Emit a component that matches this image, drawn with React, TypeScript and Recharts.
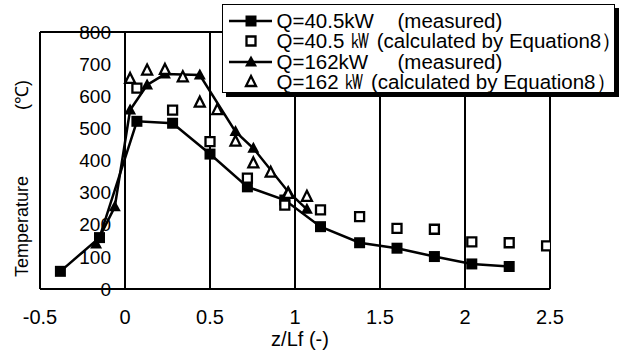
import {
  CartesianGrid,
  ComposedChart,
  Label,
  ReferenceDot,
  Scatter,
  XAxis,
  YAxis,
} from "recharts";

const FONT = "Arial, 'Liberation Sans', sans-serif";

const zTicks = [-0.5, 0, 0.5, 1, 1.5, 2, 2.5];
const tempTicks = [0, 100, 200, 300, 400, 500, 600, 700, 800];

// Q=40.5kW, thermocouple readings
const measured40 = [
  { x: -0.38, t: 55 },
  { x: -0.15, t: 160 },
  { x: 0.07, t: 522 },
  { x: 0.28, t: 516 },
  { x: 0.5, t: 420 },
  { x: 0.72, t: 318 },
  { x: 0.94, t: 277 },
  { x: 1.15, t: 194 },
  { x: 1.38, t: 144 },
  { x: 1.6, t: 127 },
  { x: 1.82, t: 101 },
  { x: 2.04, t: 78 },
  { x: 2.26, t: 70 },
];

// Q=40.5kW, Equation 8
const calc40 = [
  { x: 0.07, t: 625 },
  { x: 0.28, t: 557 },
  { x: 0.5, t: 459 },
  { x: 0.72, t: 345 },
  { x: 0.94, t: 261 },
  { x: 1.15, t: 246 },
  { x: 1.38, t: 225 },
  { x: 1.6, t: 189 },
  { x: 1.82, t: 186 },
  { x: 2.04, t: 147 },
  { x: 2.26, t: 144 },
  { x: 2.48, t: 134 },
];

// Q=162kW, thermocouple readings
const measured162 = [
  { x: -0.17, t: 140 },
  { x: -0.06, t: 256 },
  { x: 0.03, t: 557 },
  { x: 0.13, t: 635 },
  { x: 0.235, t: 669 },
  { x: 0.44, t: 666 },
  { x: 0.65, t: 490 },
  { x: 0.755, t: 438 },
  { x: 0.96, t: 303 },
  { x: 1.07, t: 248 },
];

// Q=162kW, Equation 8
const calc162 = [
  { x: 0.03, t: 654 },
  { x: 0.13, t: 680 },
  { x: 0.235, t: 682 },
  { x: 0.34, t: 659 },
  { x: 0.44, t: 580 },
  { x: 0.543, t: 557 },
  { x: 0.65, t: 459 },
  { x: 0.755, t: 391 },
  { x: 0.857, t: 362 },
  { x: 0.96, t: 296 },
  { x: 1.07, t: 287 },
];

const series = [
  { name: "Q=40.5kW\t(measured)", data: measured40, shape: "square", filled: true },
  { name: "Q=40.5 ㎾ (calculated by Equation8）", data: calc40, shape: "square", filled: false },
  { name: "Q=162kW\t(measured)", data: measured162, shape: "triangle", filled: true },
  { name: "Q=162 ㎾ (calculated by Equation8）", data: calc162, shape: "triangle", filled: false },
];

function markerPath(cx: number, cy: number, shape: string, filled: boolean) {
  if (shape === "square") {
    const s = filled ? 11 : 9;
    return `M${cx - s / 2},${cy - s / 2}h${s}v${s}h${-s}Z`;
  }
  const w = filled ? 12 : 10;
  const h = filled ? 11 : 10;
  return `M${cx},${cy - h * 0.6}L${cx + w / 2},${cy + h * 0.4}L${cx - w / 2},${cy + h * 0.4}Z`;
}

function Marker({ cx, cy, shape, filled }: any) {
  return (
    <path
      d={markerPath(cx, cy, shape, filled)}
      fill={filled ? "#000" : "#fff"}
      stroke="#000"
      strokeWidth={filled ? 0 : 2.3}
      strokeLinejoin="miter"
    />
  );
}

// rotated y-axis title beside the plot frame: word at the bottom, unit at the top
function TempTitle() {
  return (
    <svg width={40} height={351} style={{ position: "absolute", left: 0, top: 0 }}>
      <text x={28} y={277} transform="rotate(-90 28 277)" fontSize={18} fill="#000">
        Temperature
      </text>
      <text x={28} y={80} transform="rotate(-90 28 80)" textAnchor="end" fontSize={18} fill="#000">
        (℃)
      </text>
    </svg>
  );
}

function LegendBox() {
  return (
    <div
      style={{
        position: "absolute",
        left: 222,
        top: 4,
        width: 393,
        height: 89,
        boxSizing: "border-box",
        border: "1.5px solid #000",
        background: "#fff",
        boxShadow: "4px 4px 0 #000",
        padding: "5.5px 0 0 5.5px",
      }}
    >
      {series.map((s) => (
        <div key={s.name} style={{ display: "flex", alignItems: "center", height: 20.5 }}>
          <svg width={48} height={20} style={{ flex: "none" }}>
            {s.filled && <line x1={0} x2={43} y1={10} y2={10} stroke="#000" strokeWidth={2.5} />}
            <Marker cx={22} cy={10} shape={s.shape} filled={s.filled} />
          </svg>
          <div
            style={{
              fontSize: 20.5,
              lineHeight: "20.5px",
              whiteSpace: "pre",
              tabSize: "121px",
              color: "#000",
            }}
          >
            {s.name}
          </div>
        </div>
      ))}
    </div>
  );
}

export default function App() {
  const ordered = [series[0], series[2], series[1], series[3]];
  return (
    <div style={{ position: "relative", width: 619, height: 351, fontFamily: FONT, background: "#fff" }}>
      <style>{`body { margin: 0; }`}</style>
      <ComposedChart width={619} height={351} margin={{ top: 32, right: 69, bottom: 0, left: 40 }}>
        <CartesianGrid stroke="#000" strokeWidth={1.3} shapeRendering="crispEdges" />
        <XAxis
          type="number"
          dataKey="x"
          domain={[-0.5, 2.5]}
          ticks={zTicks}
          height={62}
          tickLine={false}
          tickMargin={15}
          axisLine={{ stroke: "#000", strokeWidth: 1.3, shapeRendering: "crispEdges" }}
          tick={{ fill: "#000", fontSize: 20 }}
          allowDataOverflow
        >
          <Label value="z/Lf (-)" position="insideBottom" offset={5} dx={5} fill="#000" fontSize={20} />
        </XAxis>
        <YAxis
          type="number"
          dataKey="t"
          domain={[0, 800]}
          ticks={tempTicks}
          width={0}
          tick={false}
          axisLine={false}
          tickLine={false}
        />
        {tempTicks.map((v) => (
          <ReferenceDot
            key={v}
            x={0}
            y={v}
            r={0}
            fill="none"
            stroke="none"
            label={{ value: v, position: "left", offset: 14, fill: "#000", fontSize: 19 }}
          />
        ))}
        {ordered.map((s) => (
          <Scatter
            key={s.name}
            data={s.data}
            isAnimationActive={false}
            line={s.filled ? { stroke: "#000", strokeWidth: 2.5 } : false}
            shape={(p: any) => <Marker cx={p.cx} cy={p.cy} shape={s.shape} filled={s.filled} />}
          />
        ))}
      </ComposedChart>
      <TempTitle />
      <LegendBox />
    </div>
  );
}
